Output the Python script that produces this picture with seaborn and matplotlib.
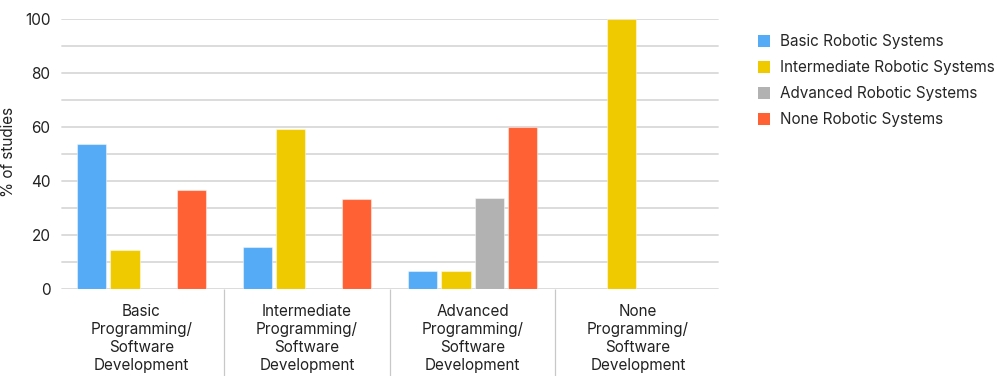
import matplotlib
matplotlib.use("Agg")
import matplotlib.pyplot as plt
import seaborn as sns
import pandas as pd
from matplotlib.patches import Patch

categories = ["Basic\nProgramming/\nSoftware\nDevelopment",
              "Intermediate\nProgramming/\nSoftware\nDevelopment",
              "Advanced\nProgramming/\nSoftware\nDevelopment",
              "None\nProgramming/\nSoftware\nDevelopment"]
series = ["Basic Robotic Systems", "Intermediate Robotic Systems",
          "Advanced Robotic Systems", "None Robotic Systems"]
basic_vals = [53.8, 15.4, 6.7, 0]
intermediate_vals = [14.6, 59.3, 6.7, 100]
advanced_vals = [0, 0, 33.7, 0]
none_vals = [36.6, 33.3, 60.0, 0]
colors = ["#55ABF6", "#F0CA00", "#B2B2B2", "#FF6134"]
yticks = [0, 20, 40, 60, 80, 100]

rows = []
for s, vals in zip(series, [basic_vals, intermediate_vals, advanced_vals, none_vals]):
    for c, v in zip(categories, vals):
        rows.append({"category": c, "series": s, "value": v})
df = pd.DataFrame(rows)

sns.set_theme(style="white")
plt.rcParams["font.family"] = ["Inter", "DejaVu Sans"]

fig = plt.figure(figsize=(9.96, 3.76), dpi=100)
W, H = 996, 376
ax = fig.add_axes([58.8 / W, 1 - 289 / H, (720.8 - 58.8) / W, (289 - 19) / H])

sns.barplot(data=df, x="category", y="value", hue="series", order=categories,
            hue_order=series, palette=colors, saturation=1, width=0.8, gap=0.12,
            edgecolor=(1, 1, 1, 0.45), linewidth=0.8, ax=ax, legend=False,
            zorder=3)

ax.set_ylim(0, 100)
ax.set_xlim(-0.5, 3.5)
for y in range(0, 101, 10):
    ax.axhline(y, xmin=3.2 / 662, xmax=1 - 3.0 / 662, color="#d9d9d9",
               linewidth=1.3, zorder=1)
for sp in ax.spines.values():
    sp.set_visible(False)

ax.set_yticks(yticks)
ax.set_yticklabels([str(t) for t in yticks], fontsize=11, color="#222222")
ax.set_xticks(range(len(categories)))
ax.set_xticklabels(categories, fontsize=11, color="#222222", linespacing=1.25)
ax.set_xticks([0.5, 1.5, 2.5], minor=True)
ax.tick_params(axis="x", which="major", length=0, pad=11, bottom=True)
ax.tick_params(axis="x", which="minor", length=64, width=0.9, color="#c8c8c8",
               bottom=True, direction="out")
ax.tick_params(axis="y", length=0, pad=6)
ax.set_xlabel("")
ax.set_ylabel("")
fig.text(9 / W, 1 - 152 / H, "% of studies", rotation=90, fontsize=11,
         color="#222222", ha="center", va="center")

handles = [Patch(facecolor=c, edgecolor="none") for c in colors]
fig.legend(handles, series, loc="upper left", bbox_to_anchor=(752 / W, 1 - 28 / H),
           frameon=False, fontsize=11, handlelength=0.8, handleheight=0.8,
           handletextpad=0.6, labelspacing=0.72, borderaxespad=0)

fig.savefig("out.png", dpi=100)
